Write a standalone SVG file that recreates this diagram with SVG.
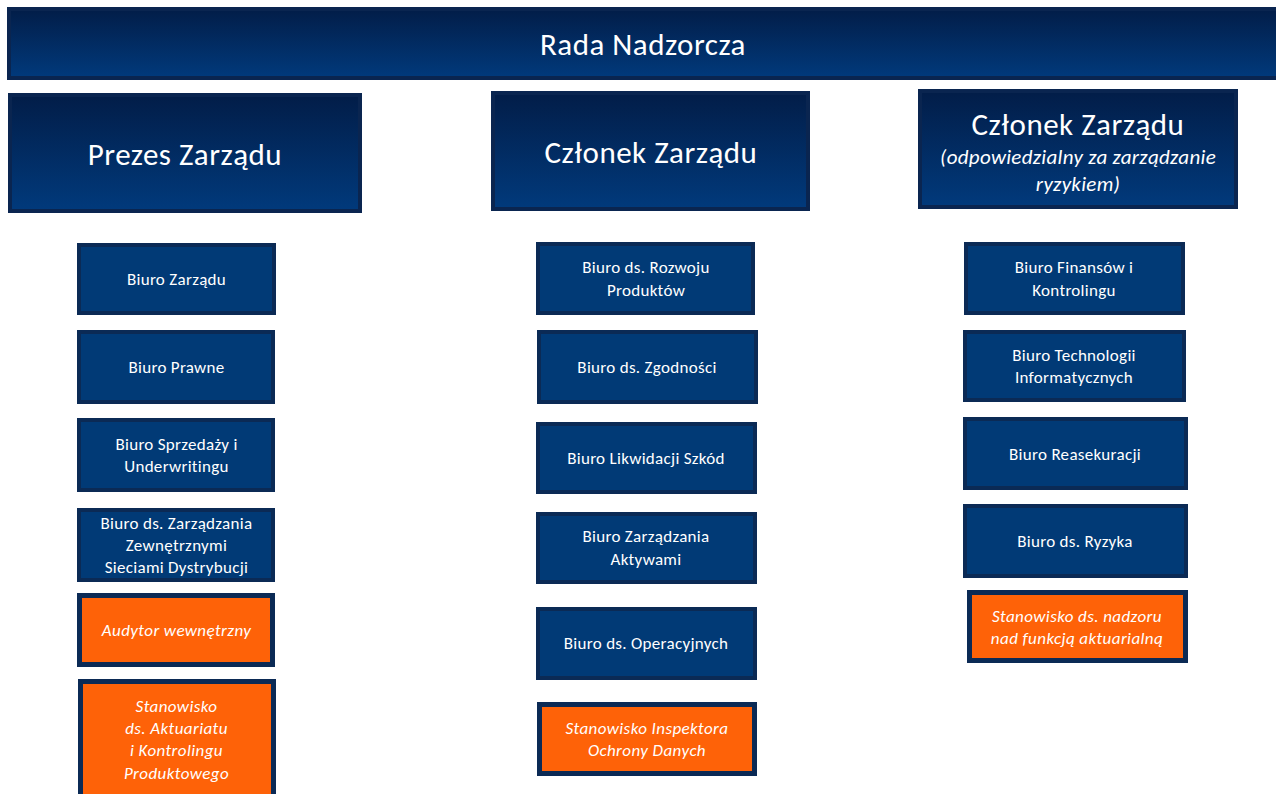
<svg xmlns="http://www.w3.org/2000/svg" width="1276" height="794" viewBox="0 0 1276 794">
<defs>
<linearGradient id="hg" x1="0" y1="0" x2="0" y2="1">
<stop offset="0" stop-color="#021d48"/>
<stop offset="1" stop-color="#013a7c"/>
</linearGradient>
<style>
text{font-family:Carlito,Lato,"Open Sans",sans-serif;fill:#ffffff;text-anchor:middle}
.hdr{fill:url(#hg);stroke:#0a2550;stroke-width:4}
.box{fill:#013a76;stroke:#0b2a55;stroke-width:4}
.org{fill:#fe6208;stroke:#0b2a55;stroke-width:5}
.t{font-size:17px;letter-spacing:0.3px}
.ti{font-size:17px;font-style:italic;letter-spacing:0.4px}
.h{font-size:31px;letter-spacing:0.5px}
.hs{font-size:21px;font-style:italic;letter-spacing:0.3px}
</style>
</defs>
<rect width="1276" height="794" fill="#ffffff"/>
<g id="connectors"></g>
<g id="rada"><rect class="hdr" x="9" y="9" width="1270" height="69"/><text class="h" x="643" y="55">Rada Nadzorcza</text></g>
<g id="prezes"><rect class="hdr" x="10" y="95" width="350" height="116"/><text class="h" x="185" y="165">Prezes Zarządu</text></g>
<g id="czlonek1"><rect class="hdr" x="493" y="93" width="315" height="116"/><text class="h" x="651" y="163">Członek Zarządu</text></g>
<g id="czlonek2"><rect class="hdr" x="920" y="91" width="316" height="116"/><text class="h" x="1078" y="135">Członek Zarządu</text><text class="hs" x="1078" y="164">(odpowiedzialny za zarządzanie</text><text class="hs" x="1078" y="191">ryzykiem)</text></g>

<g id="biuro-zarzadu"><rect class="box" x="79" y="245" width="195" height="68"/><text class="t" x="176.5" y="285">Biuro Zarządu</text></g>
<g id="biuro-prawne"><rect class="box" x="79" y="332" width="194" height="70"/><text class="t" x="176.5" y="373">Biuro Prawne</text></g>
<g id="biuro-sprzedazy"><rect class="box" x="79" y="420" width="194" height="70"/><text class="t" x="176.5" y="450">Biuro Sprzedaży i</text><text class="t" x="176.5" y="472">Underwritingu</text></g>
<g id="biuro-zzsd"><rect class="box" x="79" y="510" width="194" height="70"/><text class="t" x="176.5" y="529">Biuro ds. Zarządzania</text><text class="t" x="176.5" y="551">Zewnętrznymi</text><text class="t" x="176.5" y="573">Sieciami Dystrybucji</text></g>
<g id="audytor"><rect class="org" x="79.5" y="595.5" width="193" height="69"/><text class="ti" x="176.5" y="636">Audytor wewnętrzny</text></g>
<g id="aktuariat"><rect class="org" x="80.5" y="681.5" width="193" height="130"/><text class="ti" x="176.5" y="712">Stanowisko</text><text class="ti" x="176.5" y="734">ds. Aktuariatu</text><text class="ti" x="176.5" y="756">i Kontrolingu</text><text class="ti" x="176.5" y="779">Produktowego</text></g>

<g id="rozwoj"><rect class="box" x="538" y="244" width="215" height="69"/><text class="t" x="646" y="273">Biuro ds. Rozwoju</text><text class="t" x="646" y="296">Produktów</text></g>
<g id="zgodnosc"><rect class="box" x="539" y="332" width="217" height="70"/><text class="t" x="647" y="373">Biuro ds. Zgodności</text></g>
<g id="likwidacja"><rect class="box" x="538" y="424" width="217" height="68"/><text class="t" x="646" y="464">Biuro Likwidacji Szkód</text></g>
<g id="aktywa"><rect class="box" x="538" y="514" width="217" height="68"/><text class="t" x="646" y="542">Biuro Zarządzania</text><text class="t" x="646" y="565">Aktywami</text></g>
<g id="operacje"><rect class="box" x="538" y="609" width="217" height="69"/><text class="t" x="646" y="649">Biuro ds. Operacyjnych</text></g>
<g id="iod"><rect class="org" x="539.5" y="704.5" width="215" height="69"/><text class="ti" x="647" y="734">Stanowisko Inspektora</text><text class="ti" x="647" y="756">Ochrony Danych</text></g>

<g id="finanse"><rect class="box" x="966" y="244" width="217" height="69"/><text class="t" x="1074" y="273">Biuro Finansów i</text><text class="t" x="1074" y="296">Kontrolingu</text></g>
<g id="it"><rect class="box" x="965" y="332" width="219" height="68"/><text class="t" x="1074" y="361">Biuro Technologii</text><text class="t" x="1074" y="383">Informatycznych</text></g>
<g id="reasekuracja"><rect class="box" x="965" y="419" width="221" height="69"/><text class="t" x="1075" y="460">Biuro Reasekuracji</text></g>
<g id="ryzyko"><rect class="box" x="965" y="506" width="221" height="70"/><text class="t" x="1075" y="547">Biuro ds. Ryzyka</text></g>
<g id="aktuarialna"><rect class="org" x="969.5" y="592.5" width="216" height="68"/><text class="ti" x="1077" y="622">Stanowisko ds. nadzoru</text><text class="ti" x="1077" y="644">nad funkcją aktuarialną</text></g>
</svg>
